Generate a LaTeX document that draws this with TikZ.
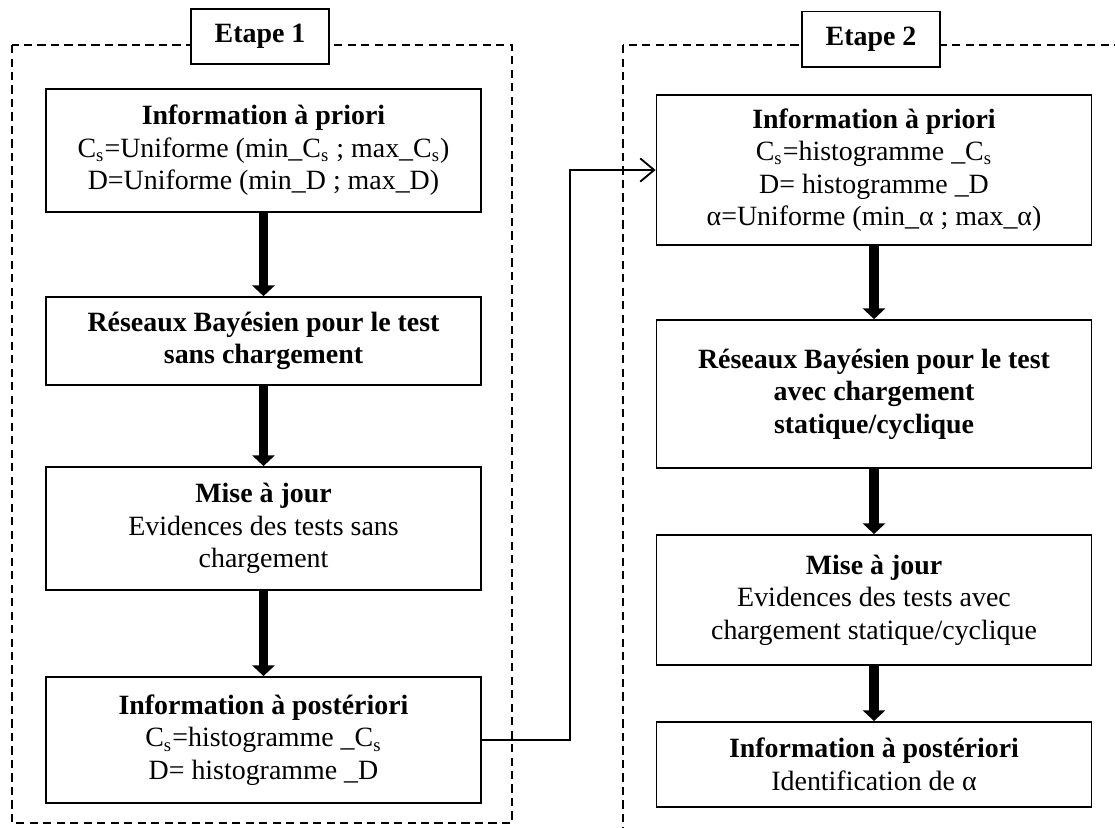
\documentclass[tikz,border=0pt]{standalone}
\usepackage{fontspec}
\setmainfont{Liberation Serif}
\usetikzlibrary{arrows.meta}

\tikzset{
  infobox/.style={draw, line width=0.8pt, align=center, minimum width=187pt, inner sep=2pt,
    font=\fontsize{12}{14}\selectfont},
  stagelabel/.style={draw, line width=0.8pt, fill=white, minimum width=59pt, minimum height=23.7pt,
    font=\fontsize{12}{14}\selectfont\bfseries},
  stageframe/.style={line width=0.65pt, dash pattern=on 3.5pt off 2.3pt},
  bigarrow/.style={line width=3.9pt, -{Triangle[length=4.6pt,width=9.5pt]}},
  feedarrow/.style={line width=0.8pt, -{Straight Barb[length=6pt,width=10pt]}},
}

\begin{document}
\begin{tikzpicture}[x=0.43pt,y=-0.43pt]
        \clip (0,0) rectangle (1115,827);

        % Dashed frames of the two stages
        \draw[stageframe] (12,45) rectangle (512,823);
        \draw[stageframe] (623,45) rectangle (1140,850);
        \node[stagelabel] (etape1) at (260,36.5) {Etape 1};
        \node[stagelabel] (etape2) at (871,39) {Etape 2};

        % Stage 1
        \node[infobox, minimum height=52.9pt] (L1) at (263.5,150.5)
            {\textbf{Information à priori}\\
             C\textsubscript{s}=Uniforme (min\_C\textsubscript{s} ; max\_C\textsubscript{s})\\
             D=Uniforme (min\_D ; max\_D)};
        \node[infobox, minimum height=37.8pt] (L2) at (263.5,341)
            {\textbf{Réseaux Bayésien pour le test}\\ \textbf{sans chargement}};
        \node[infobox, minimum height=52.9pt] (L3) at (263.5,528.5)
            {\textbf{Mise à jour}\\ Evidences des tests sans\\ chargement};
        \node[infobox, minimum height=54.2pt] (L4) at (263.5,740)
            {\textbf{Information à postériori}\\
             C\textsubscript{s}=histogramme \_C\textsubscript{s}\\
             D= histogramme \_D};

        % Stage 2
        \node[infobox, minimum height=64.5pt] (R1) at (874,170)
            {\textbf{Information à priori}\\
             C\textsubscript{s}=histogramme \_C\textsubscript{s}\\
             D= histogramme \_D\\
             α=Uniforme (min\_α ; max\_α)};
        \node[infobox, minimum height=63.6pt] (R2) at (874,394)
            {\textbf{Réseaux Bayésien pour le test}\\ \textbf{avec chargement}\\ \textbf{statique/cyclique}};
        \node[infobox, minimum height=55.9pt] (R3) at (874,600)
            {\textbf{Mise à jour}\\ Evidences des tests avec\\ chargement statique/cyclique};
        \node[infobox, minimum height=36.6pt] (R4) at (874,764.5)
            {\textbf{Information à postériori}\\ Identification de α};

        % Flow arrows
        \draw[bigarrow] (L1) -- (L2);
        \draw[bigarrow] (L2) -- (L3);
        \draw[bigarrow] (L3) -- (L4);
        \draw[bigarrow] (R1) -- (R2);
        \draw[bigarrow] (R2) -- (R3);
        \draw[bigarrow] (R3) -- (R4);

        % Posterior of stage 1 feeds stage 2
        \draw[feedarrow] (L4.east) -- ++(88,0) |- (R1.west);
\end{tikzpicture}
\end{document}
